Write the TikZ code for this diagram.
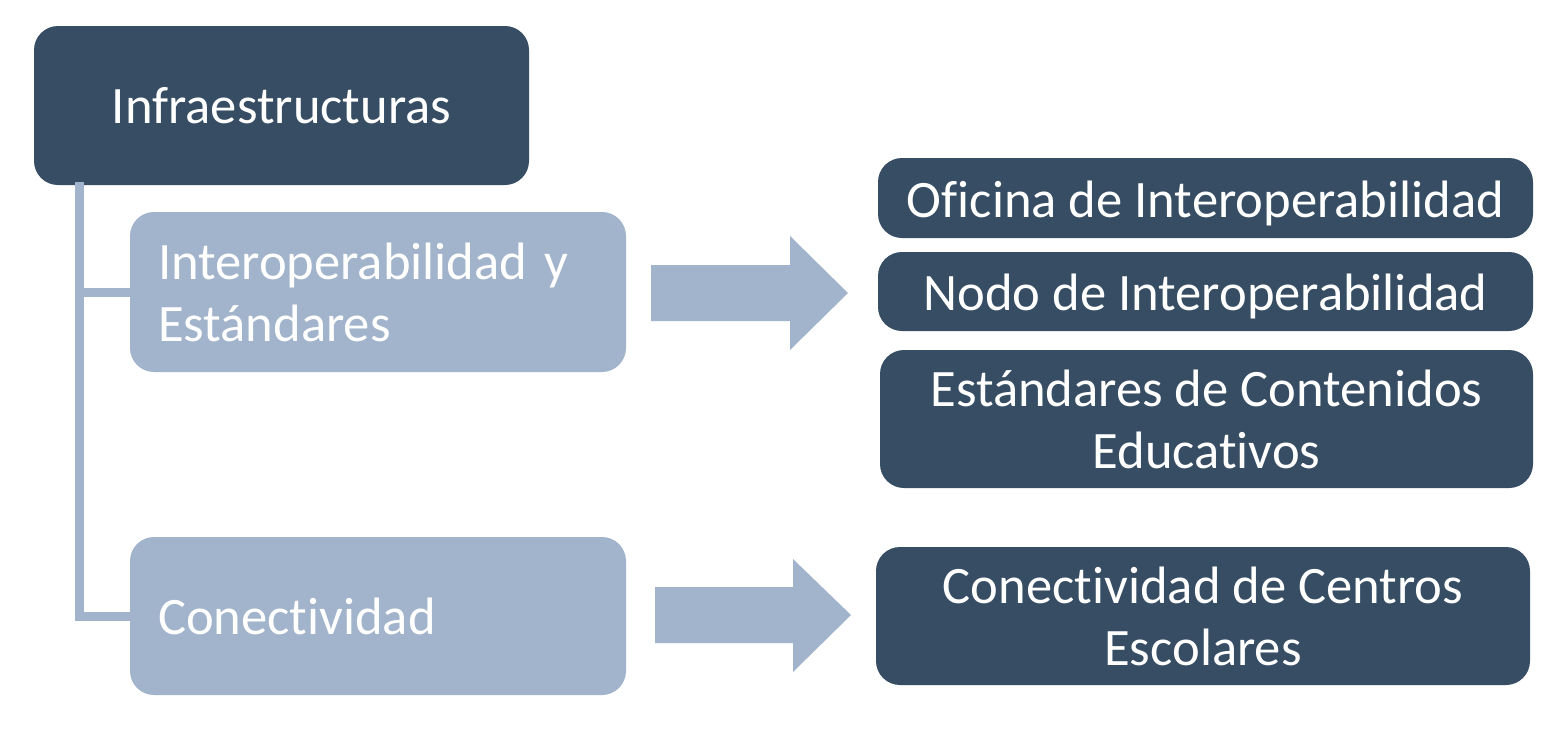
\documentclass[tikz,border=0pt]{standalone}
\usepackage{fontspec}
\setmainfont[Ligatures=NoCommon]{Carlito}
\definecolor{darkbox}{RGB}{54,77,99}
\definecolor{lightbox}{RGB}{162,180,203}
\newcommand{\lowertext}[1]{\raisebox{-2.5pt}[\height][\depth]{#1}}
\begin{document}
\begin{tikzpicture}[x=0.5pt,y=-0.5pt,
  every node/.style={font=\fontsize{26.3}{31}\selectfont, text=white},
  darkstyle/.style={fill=darkbox, rounded corners=12pt, align=center, inner sep=0pt},
  lightstyle/.style={fill=lightbox, rounded corners=12pt, align=left, text width=220pt, inner xsep=14pt, inner ysep=0pt, minimum width=248pt},
  blockarrow/.style={fill=lightbox},
  trunkline/.style={draw=lightbox, line width=4.5pt}]
\useasboundingbox (0,0) rectangle (1565,729);
\node[darkstyle, minimum width=247.5pt, minimum height=79.5pt] (root) at (281.5,105.5) {Infraestructuras};
\node[lightstyle, minimum height=80pt] (ib) at (378,292) {Interoperabilidad y\\Estándares};
\node[lightstyle, minimum height=79pt] (cb) at (378,616) {Conectividad};
\coordinate (trunk) at (79,182);
\draw[trunkline] (trunk) |- (ib.west);
\draw[trunkline] (trunk) |- (cb.west);
\fill[blockarrow] (651,265) -- (790,265) -- (790,236) -- (848,293) -- (790,350) -- (790,321) -- (651,321) -- cycle;
\fill[blockarrow] (655,587) -- (793,587) -- (793,559) -- (851,615) -- (793,672) -- (793,643) -- (655,643) -- cycle;
\node[darkstyle, minimum width=327.5pt, minimum height=40pt] (o1) at (1205.5,198) {\lowertext{Oficina de Interoperabilidad}};
\node[darkstyle, minimum width=327.5pt, minimum height=39.5pt] (o2) at (1205.5,291.5) {\lowertext{Nodo de Interoperabilidad}};
\node[darkstyle, minimum width=326.5pt, minimum height=69pt] (o3) at (1206.5,419) {Estándares de Contenidos\\Educativos};
\node[darkstyle, minimum width=327pt, minimum height=69pt] (o4) at (1203,616) {Conectividad de Centros\\Escolares};
\end{tikzpicture}
\end{document}
